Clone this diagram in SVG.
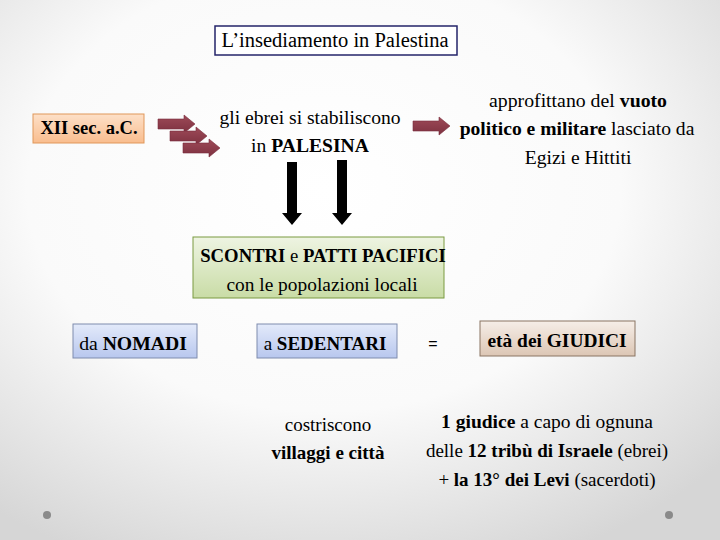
<svg xmlns="http://www.w3.org/2000/svg" width="720" height="540" viewBox="0 0 720 540" font-family="'Liberation Serif', 'Times New Roman', 'DejaVu Serif', serif">
<defs>
<radialGradient id="bg" cx="0.45" cy="0.35" r="0.75">
<stop offset="0" stop-color="#ffffff"/>
<stop offset="0.55" stop-color="#fafafa"/>
<stop offset="1" stop-color="#d6d6d6"/>
</radialGradient>
<linearGradient id="gOrange" x1="0" y1="0" x2="0" y2="1">
<stop offset="0" stop-color="#fde0c8"/>
<stop offset="1" stop-color="#f9bd8e"/>
</linearGradient>
<linearGradient id="gGreen" x1="0" y1="0" x2="0" y2="1">
<stop offset="0" stop-color="#eef4e2"/>
<stop offset="1" stop-color="#c9dca6"/>
</linearGradient>
<linearGradient id="gBlue" x1="0" y1="0" x2="0" y2="1">
<stop offset="0" stop-color="#e3eafa"/>
<stop offset="1" stop-color="#b8c7ee"/>
</linearGradient>
<linearGradient id="gBrown" x1="0" y1="0" x2="0" y2="1">
<stop offset="0" stop-color="#f6eee8"/>
<stop offset="1" stop-color="#dcc6b4"/>
</linearGradient>
<linearGradient id="gRed" x1="0" y1="0" x2="0" y2="1">
<stop offset="0" stop-color="#9e4a58"/>
<stop offset="1" stop-color="#7d3140"/>
</linearGradient>
<path id="rArrow" d="M0,-5 H26 V-9 L37,0 L26,9 V5 H0 Z"/>
</defs>
<style>
text{fill:#000;text-anchor:middle}
.b{font-weight:bold}
.red{fill:url(#gRed);stroke:#7a2e3c;stroke-width:0.6}
.down{fill:#000}
</style>
<rect width="720" height="540" fill="url(#bg)"/>

<g id="connectors">
<use href="#rArrow" class="red" x="158" y="124"/>
<use href="#rArrow" class="red" x="170" y="136"/>
<use href="#rArrow" class="red" x="183" y="148"/>
<use href="#rArrow" class="red" x="413" y="126"/>
<path class="down" d="M287,162 H297 V213 H302 L292,225 L282,213 H287 Z"/>
<path class="down" d="M337,160 H347 V213 H352 L342,225 L332,213 H337 Z"/>
</g>

<g id="title">
<rect x="215" y="26" width="242" height="29" fill="#ffffff" stroke="#24246a" stroke-width="1.5"/>
<text x="335" y="47" font-size="20.5">L’insediamento in Palestina</text>
</g>

<g id="xii">
<rect x="33" y="114" width="111" height="29" fill="url(#gOrange)" stroke="#e0975a" stroke-width="1"/>
<text x="89" y="134" font-size="18.5" class="b">XII sec. a.C.</text>
</g>

<g id="ebrei">
<text x="310" y="124" font-size="19.6">gli ebrei si stabiliscono</text>
<text x="310" y="152" font-size="19.6">in <tspan class="b">PALESINA</tspan></text>
</g>

<g id="vuoto">
<text x="578" y="107" font-size="19.8">approfittano del <tspan class="b">vuoto</tspan></text>
<text x="577" y="135" font-size="19.6"><tspan class="b">politico e militare</tspan> lasciato da</text>
<text x="578" y="164" font-size="19.6">Egizi e Hittiti</text>
</g>

<g id="scontri">
<rect x="193" y="237" width="251" height="61" fill="url(#gGreen)" stroke="#7a9a40" stroke-width="1"/>
<text x="323" y="262" font-size="18.7" class="b">SCONTRI <tspan font-weight="normal">e</tspan> PATTI PACIFICI</text>
<text x="322" y="291" font-size="19.4">con le popolazioni locali</text>
</g>

<g id="nomadi">
<rect x="73" y="324" width="124" height="34" fill="url(#gBlue)" stroke="#7f8cae" stroke-width="1"/>
<text x="133" y="350" font-size="19.7">da <tspan class="b">NOMADI</tspan></text>
</g>

<g id="sedentari">
<rect x="257" y="324" width="140" height="34" fill="url(#gBlue)" stroke="#7f8cae" stroke-width="1"/>
<text x="325" y="350" font-size="19">a <tspan class="b">SEDENTARI</tspan></text>
</g>

<g id="uguale">
<text x="433" y="349" font-size="16" font-family="'Liberation Sans', Arial, sans-serif">=</text>
</g>

<g id="giudici">
<rect x="480" y="321" width="155" height="35" fill="url(#gBrown)" stroke="#8a7462" stroke-width="1"/>
<text x="557" y="347" font-size="19.4" class="b">età dei GIUDICI</text>
</g>

<g id="costriscono">
<text x="328" y="431" font-size="19">costriscono</text>
<text x="328" y="459" font-size="19" class="b">villaggi e città</text>
</g>

<g id="giudice">
<text x="547" y="428" font-size="19.5"><tspan class="b">1 giudice</tspan> a capo di ognuna</text>
<text x="547" y="457" font-size="19"><tspan>delle </tspan><tspan class="b">12 tribù di Israele</tspan> (ebrei)</text>
<text x="547" y="486" font-size="19">+ <tspan class="b">la 13° dei Levi</tspan> (sacerdoti)</text>
</g>

<circle cx="47" cy="515" r="4" fill="#8a8a8a"/>
<circle cx="669" cy="515" r="4" fill="#8a8a8a"/>
</svg>
